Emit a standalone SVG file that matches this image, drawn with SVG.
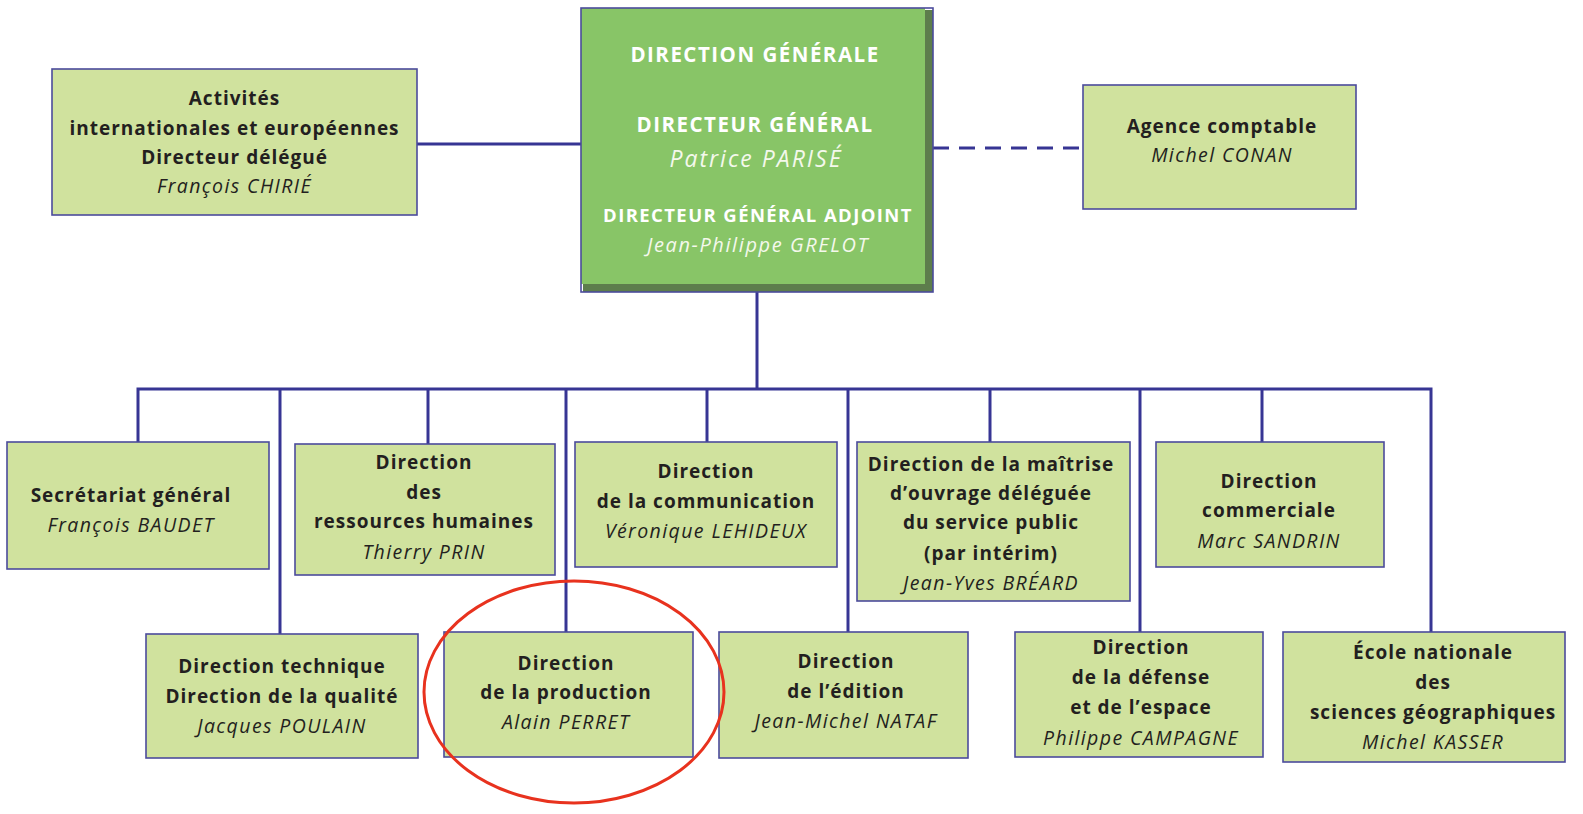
<svg xmlns="http://www.w3.org/2000/svg" width="1583" height="814" viewBox="0 0 1583 814">
<style>
.box{fill:#d0e29e;stroke:#4b4b9c;stroke-width:1.6}
.t{font-family:"Open Sans","Noto Sans","Liberation Sans",sans-serif;font-size:19px;font-weight:bold;letter-spacing:1px;fill:#231f20;text-anchor:middle}
.n{font-family:"Open Sans","Noto Sans","Liberation Sans",sans-serif;font-size:19.5px;font-style:italic;letter-spacing:1.4px;fill:#231f20;text-anchor:middle}
.w{font-family:"Open Sans","Noto Sans","Liberation Sans",sans-serif;font-weight:bold;fill:#ffffff;text-anchor:middle}
.wi{font-family:"Open Sans","Noto Sans","Liberation Sans",sans-serif;font-style:italic;fill:#f4f8ec;text-anchor:middle}
.c{fill:none;stroke:#373594;stroke-width:3}
</style>
<rect width="1583" height="814" fill="#ffffff"/>
<g id="connectors">
<line class="c" x1="417" y1="144" x2="581" y2="144"/>
<line class="c" x1="933" y1="148" x2="1083" y2="148" stroke-dasharray="16,10"/>
<line class="c" x1="757" y1="292" x2="757" y2="389"/>
<polyline class="c" points="138,442 138,389 1431,389 1431,632"/>
<line class="c" x1="280" y1="389" x2="280" y2="634"/>
<line class="c" x1="428" y1="389" x2="428" y2="444"/>
<line class="c" x1="566" y1="389" x2="566" y2="632"/>
<line class="c" x1="707" y1="389" x2="707" y2="442"/>
<line class="c" x1="848" y1="389" x2="848" y2="632"/>
<line class="c" x1="990" y1="389" x2="990" y2="442"/>
<line class="c" x1="1140" y1="389" x2="1140" y2="632"/>
<line class="c" x1="1262" y1="389" x2="1262" y2="442"/>
</g>
<g id="direction-generale">
<rect x="583" y="10" width="350" height="282" fill="#5d7d4c"/>
<rect x="581" y="8" width="344" height="276" fill="#88c567"/>
<rect x="581" y="8" width="352" height="284" fill="none" stroke="#4b4b9c" stroke-width="1.6"/>
<text class="w" x="755" y="62" font-size="20.5" letter-spacing="1.5">DIRECTION GÉNÉRALE</text>
<text class="w" x="755" y="132" font-size="20.5" letter-spacing="1.5">DIRECTEUR GÉNÉRAL</text>
<text class="wi" x="756" y="167" font-size="23" letter-spacing="2">Patrice PARISÉ</text>
<text class="w" x="758" y="222" font-size="18.5" letter-spacing="1.4">DIRECTEUR GÉNÉRAL ADJOINT</text>
<text class="wi" x="758" y="252" font-size="20" letter-spacing="1.6">Jean-Philippe GRELOT</text>
</g>
<g id="activites-internationales">
<rect class="box" x="52" y="69" width="365" height="146"/>
<text class="t" x="234.5" y="105">Activités</text>
<text class="t" x="234.5" y="135">internationales et européennes</text>
<text class="t" x="234.5" y="164">Directeur délégué</text>
<text class="n" x="234.5" y="193">François CHIRIÉ</text>
</g>
<g id="agence-comptable">
<rect class="box" x="1083" y="85" width="273" height="124"/>
<text class="t" x="1222" y="133">Agence comptable</text>
<text class="n" x="1222" y="162">Michel CONAN</text>
</g>
<g id="secretariat-general">
<rect class="box" x="7" y="442" width="262" height="127"/>
<text class="t" x="131" y="502">Secrétariat général</text>
<text class="n" x="131" y="532">François BAUDET</text>
</g>
<g id="drh">
<rect class="box" x="295" y="444" width="260" height="131"/>
<text class="t" x="424" y="469">Direction</text>
<text class="t" x="424" y="499">des</text>
<text class="t" x="424" y="528">ressources humaines</text>
<text class="n" x="424" y="559">Thierry PRIN</text>
</g>
<g id="communication">
<rect class="box" x="575" y="442" width="262" height="125"/>
<text class="t" x="706" y="478">Direction</text>
<text class="t" x="706" y="508">de la communication</text>
<text class="n" x="706" y="538">Véronique LEHIDEUX</text>
</g>
<g id="maitrise-ouvrage">
<rect class="box" x="857" y="442" width="273" height="159"/>
<text class="t" x="991" y="471">Direction de la maîtrise</text>
<text class="t" x="991" y="500">d’ouvrage déléguée</text>
<text class="t" x="991" y="529">du service public</text>
<text class="t" x="991" y="560">(par intérim)</text>
<text class="n" x="991" y="590">Jean-Yves BRÉARD</text>
</g>
<g id="commerciale">
<rect class="box" x="1156" y="442" width="228" height="125"/>
<text class="t" x="1269" y="488">Direction</text>
<text class="t" x="1269" y="517">commerciale</text>
<text class="n" x="1269" y="548">Marc SANDRIN</text>
</g>
<g id="technique">
<rect class="box" x="146" y="634" width="272" height="124"/>
<text class="t" x="282" y="673">Direction technique</text>
<text class="t" x="282" y="703">Direction de la qualité</text>
<text class="n" x="282" y="733">Jacques POULAIN</text>
</g>
<g id="production">
<rect class="box" x="444" y="632" width="249" height="125"/>
<text class="t" x="566" y="670">Direction</text>
<text class="t" x="566" y="699">de la production</text>
<text class="n" x="566" y="729">Alain PERRET</text>
</g>
<g id="edition">
<rect class="box" x="719" y="632" width="249" height="126"/>
<text class="t" x="846" y="668">Direction</text>
<text class="t" x="846" y="698">de l’édition</text>
<text class="n" x="846" y="728">Jean-Michel NATAF</text>
</g>
<g id="defense-espace">
<rect class="box" x="1015" y="632" width="248" height="125"/>
<text class="t" x="1141" y="654">Direction</text>
<text class="t" x="1141" y="684">de la défense</text>
<text class="t" x="1141" y="714">et de l’espace</text>
<text class="n" x="1141" y="745">Philippe CAMPAGNE</text>
</g>
<g id="ecole-nationale">
<rect class="box" x="1283" y="632" width="282" height="130"/>
<text class="t" x="1433" y="659">École nationale</text>
<text class="t" x="1433" y="689">des</text>
<text class="t" x="1433" y="719">sciences géographiques</text>
<text class="n" x="1433" y="749">Michel KASSER</text>
</g>
<ellipse id="highlight" cx="574" cy="692" rx="150" ry="111" fill="none" stroke="#e8321e" stroke-width="3"/>
</svg>
